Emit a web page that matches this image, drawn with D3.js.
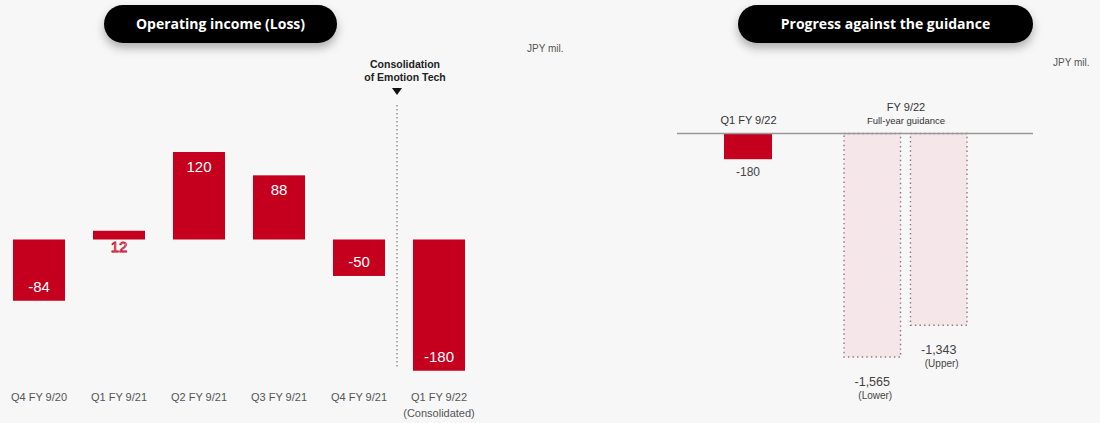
<!DOCTYPE html>
<html>
<head>
<meta charset="utf-8">
<script src="https://cdn.jsdelivr.net/npm/d3@7/dist/d3.min.js"></script>
<style>
  html, body { margin: 0; padding: 0; background: #f7f7f7; }
  svg { display: block; }
  text { font-family: "Liberation Sans", Arial, sans-serif; }
</style>
</head>
<body>
<svg id="chart" width="1100" height="423"></svg>
<script>
// Quarterly operating income (loss), JPY mil.
const quarters = ["Q4 FY 9/20", "Q1 FY 9/21", "Q2 FY 9/21", "Q3 FY 9/21", "Q4 FY 9/21", "Q1 FY 9/22|(Consolidated)"];
const operatingIncome = [-84, 12, 120, 88, -50, -180];

// Progress against the full-year guidance, JPY mil.
const progressGroups = ["Q1 FY 9/22", "FY 9/22|Full-year guidance"];
const q1Actual = [-180];
const guidanceCases = ["Lower", "Upper"];
const guidanceValues = [-1565, -1343];

const RED = "#c5001f";
const svg = d3.select("#chart");

// plain hyphen for negatives, comma thousands
const fmt = d3.formatLocale({ decimal: ".", thousands: ",", grouping: [3], currency: ["", ""], minus: "-" }).format(",");

// shadow under the title pills
const defs = svg.append("defs");
const f = defs.append("filter").attr("id", "pillShadow")
  .attr("x", "-20%").attr("y", "-50%").attr("width", "140%").attr("height", "220%");
f.append("feDropShadow").attr("dx", 0).attr("dy", 5).attr("stdDeviation", 5)
  .attr("flood-color", "#000").attr("flood-opacity", 0.3);

function pill(x, w, label) {
  const g = svg.append("g");
  g.append("rect").attr("x", x).attr("y", 5).attr("width", w).attr("height", 38)
    .attr("rx", 19).attr("fill", "#050505").attr("filter", "url(#pillShadow)");
  g.append("text").attr("x", x + w / 2).attr("y", 29).attr("text-anchor", "middle")
    .attr("fill", "#fff").style("font-family", "'Open Sans', sans-serif")
    .style("font-weight", 700).style("font-size", "14px").text(label);
}

// ---------------- Operating income (Loss) ----------------
pill(104, 233, "Operating income (Loss)");

svg.append("text").attr("x", 527).attr("y", 52).attr("fill", "#555")
  .style("font-size", "10px").text("JPY mil.");

const x1 = d3.scaleBand().domain(quarters).range([-1, 479])
  .paddingInner(0.35).paddingOuter(0.175);
const y1 = d3.scaleLinear().domain([0, 120]).range([239.5, 152]);

const left = svg.append("g");
left.selectAll("rect.bar").data(operatingIncome).join("rect")
  .attr("class", "bar")
  .attr("x", (d, i) => x1(quarters[i]))
  .attr("width", x1.bandwidth())
  .attr("y", d => Math.min(y1(d), y1(0)))
  .attr("height", d => Math.abs(y1(d) - y1(0)))
  .attr("fill", RED);

const small = d => Math.abs(y1(d) - y1(0)) < 20;
left.selectAll("text.val").data(operatingIncome).join("text")
  .attr("class", "val")
  .attr("x", (d, i) => x1(quarters[i]) + x1.bandwidth() / 2)
  .attr("y", d => {
    if (small(d)) return y1(0) + 12;      // thin bar: label sits below it
    return d >= 0 ? y1(d) + 20 : y1(d) - 9;
  })
  .attr("text-anchor", "middle")
  .style("font-size", "15px")
  .attr("fill", d => small(d) ? "#f8dde1" : "#fff")
  .attr("stroke", d => small(d) ? RED : "none")
  .attr("stroke-width", 0.8)
  .text(d => fmt(d));

// category axis
const ax1 = left.append("g").attr("transform", "translate(0,386)")
  .call(d3.axisBottom(x1).tickSize(0).tickPadding(0).tickFormat(() => ""));
ax1.select(".domain").remove();
ax1.selectAll(".tick text").each(function(d) {
  const t = d3.select(this).attr("y", 0).attr("dy", null)
    .attr("fill", "#555").style("font-size", "11px").style("font-family", "'Liberation Sans', Arial, sans-serif");
  d.split("|").forEach((line, k) => {
    t.append("tspan").attr("x", 0).attr("y", 15 + k * 16).text(line);
  });
});

// consolidation marker between the last two quarters
const markX = (x1(quarters[4]) + x1.bandwidth() + x1(quarters[5])) / 2 - 2;
left.append("line").attr("x1", markX).attr("x2", markX).attr("y1", 105).attr("y2", 367)
  .attr("stroke", "#888").attr("stroke-width", 1.3).attr("stroke-dasharray", "1.5 2.5");
left.append("path")
  .attr("d", `M${markX - 5},88 L${markX + 5},88 L${markX},95 Z`).attr("fill", "#111");
const note = left.append("text").attr("text-anchor", "middle").attr("fill", "#222")
  .style("font-size", "10.5px").style("font-weight", 700);
note.append("tspan").attr("x", markX + 8).attr("y", 68).text("Consolidation");
note.append("tspan").attr("x", markX + 8).attr("y", 81).text("of Emotion Tech");

// ---------------- Progress against the guidance ----------------
pill(738, 295, "Progress against the guidance");

svg.append("text").attr("x", 1053).attr("y", 66).attr("fill", "#555")
  .style("font-size", "10px").text("JPY mil.");

const gx = d3.scalePoint().domain(progressGroups).range([748, 905.5]);
const y2 = d3.scaleLinear().domain([0, -1565]).range([133.5, 357]);
const inner = d3.scaleBand().domain(guidanceCases).range([-61.5, 61.5]).paddingInner(0.15);

const right = svg.append("g");

// guidance ranges (light fill, dotted outline)
right.selectAll("rect.guide").data(guidanceValues).join("rect")
  .attr("class", "guide")
  .attr("x", (d, i) => gx(progressGroups[1]) + inner(guidanceCases[i]))
  .attr("width", inner.bandwidth())
  .attr("y", y2(0))
  .attr("height", d => y2(d) - y2(0))
  .attr("fill", "#f5e6ea")
  .attr("stroke", "#8f747c").attr("stroke-width", 1.4).attr("stroke-dasharray", "1.4 3.2");

// Q1 actual
const q1W = 48;
right.selectAll("rect.actual").data(q1Actual).join("rect")
  .attr("class", "actual")
  .attr("x", gx(progressGroups[0]) - q1W / 2)
  .attr("width", q1W)
  .attr("y", y2(0))
  .attr("height", d => y2(d) - y2(0))
  .attr("fill", RED);

// baseline
right.append("line").attr("x1", 677).attr("x2", 1033).attr("y1", y2(0)).attr("y2", y2(0))
  .attr("stroke", "#999").attr("stroke-width", 1.5);

right.selectAll("text.actualVal").data(q1Actual).join("text")
  .attr("class", "actualVal")
  .attr("x", gx(progressGroups[0])).attr("y", d => y2(d) + 17)
  .attr("text-anchor", "middle").attr("fill", "#444").style("font-size", "12px")
  .text(d => fmt(d));

right.selectAll("text.guideVal").data(guidanceValues).join("text")
  .attr("class", "guideVal")
  .attr("text-anchor", "middle").attr("fill", "#444")
  .each(function(d, i) {
    const cx = gx(progressGroups[1]) + inner(guidanceCases[i]) + inner.bandwidth() / 2;
    const t = d3.select(this);
    t.append("tspan").attr("x", cx).attr("y", y2(d) + 29).style("font-size", "12.5px").text(fmt(d));
    t.append("tspan").attr("x", cx + 3).attr("y", y2(d) + 42).style("font-size", "10px")
      .text("(" + guidanceCases[i] + ")");
  });

// group labels above the baseline
const ax2 = right.append("g")
  .call(d3.axisTop(gx).tickSize(0).tickFormat(() => ""));
ax2.select(".domain").remove();
ax2.selectAll(".tick text").each(function(d) {
  const t = d3.select(this).attr("y", 0).attr("dy", null).attr("fill", "#333")
    .style("font-family", "'Liberation Sans', Arial, sans-serif");
  const lines = d.split("|");
  if (lines.length === 1) {
    t.append("tspan").attr("x", 0).attr("y", 124).style("font-size", "11px").text(lines[0]);
  } else {
    t.append("tspan").attr("x", 0).attr("y", 111).style("font-size", "11px").text(lines[0]);
    t.append("tspan").attr("x", 0).attr("y", 124).style("font-size", "9.5px").text(lines[1]);
  }
});
</script>
</body>
</html>
